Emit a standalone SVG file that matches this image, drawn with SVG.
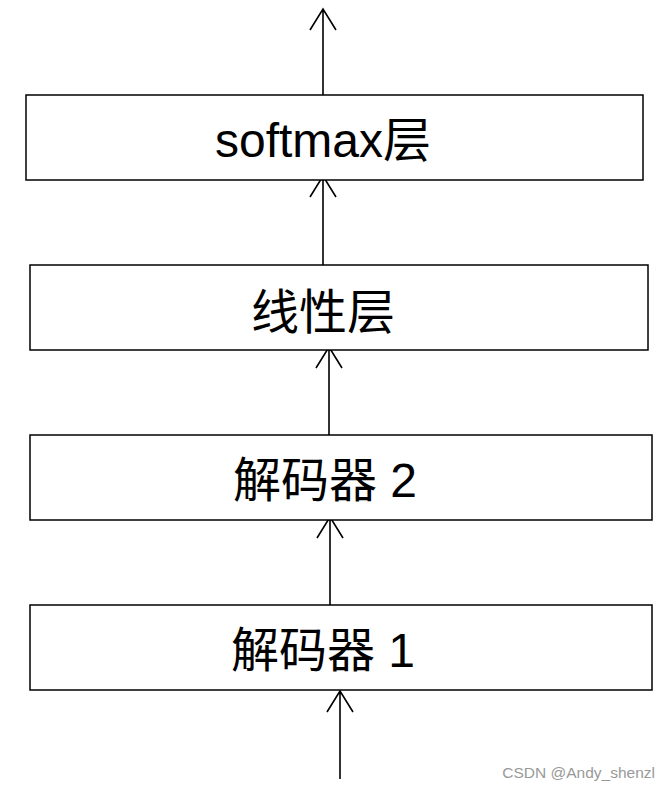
<svg xmlns="http://www.w3.org/2000/svg" width="669" height="789" viewBox="0 0 669 789">
<style>
.box{fill:#fff;stroke:#000;stroke-width:1.5}
.lbl{font-family:"Liberation Sans","Noto Sans CJK SC",sans-serif;font-size:48px;fill:#000;text-anchor:middle}
.ln{stroke:#000;stroke-width:1.6;fill:none}
.wm{font-family:"Liberation Sans","Noto Sans CJK SC",sans-serif;font-size:15.5px;fill:#999}
</style>
<rect width="669" height="789" fill="#fff"/>
<g id="connectors">
<path class="ln" d="M323,95 V9 M310,30 L323,9 L336,30"/>
<path class="ln" d="M323,265 V176 M310,197 L323,176 L336,197"/>
<path class="ln" d="M329,435 V347 M316,368 L329,347 L342,368"/>
<path class="ln" d="M330,605 V517 M317,538 L330,517 L343,538"/>
<path class="ln" d="M340,779 V691 M327,712 L340,691 L353,712"/>
</g>
<g id="softmax">
<rect class="box" x="26" y="95" width="617" height="85"/>
<text class="lbl" x="323" y="157">softmax层</text>
</g>
<g id="linear">
<rect class="box" x="30" y="265" width="618" height="85"/>
<text class="lbl" x="323" y="329">线性层</text>
</g>
<g id="decoder2">
<rect class="box" x="30" y="435" width="622" height="85"/>
<text class="lbl" x="325" y="497">解码器 2</text>
</g>
<g id="decoder1">
<rect class="box" x="30" y="605" width="622" height="85"/>
<text class="lbl" x="323" y="667">解码器 1</text>
</g>
<text class="wm" x="655" y="778" text-anchor="end">CSDN @Andy_shenzl</text>
</svg>
